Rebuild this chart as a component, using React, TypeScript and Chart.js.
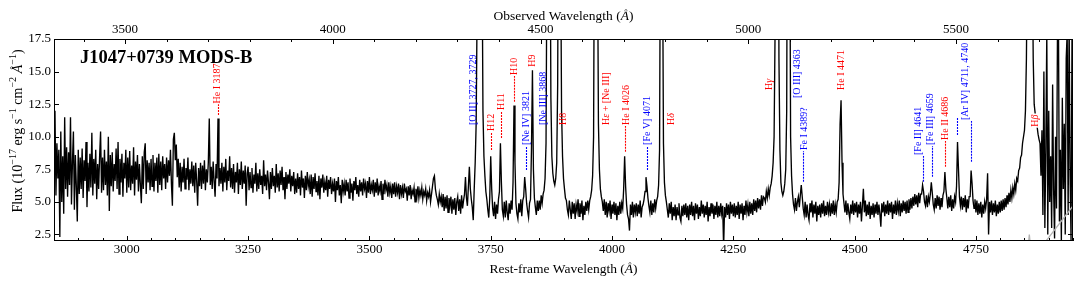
import React, { useEffect, useRef } from 'react';
import { Chart, registerables } from 'chart.js';

Chart.register(...registerables);

// ---------------- data ----------------
const REDSHIFT = 0.168;
const WAVE_START = 2850; // rest-frame Angstrom of the first spectral pixel
const WAVE_STEP = 2;     // Angstrom per spectral pixel

// rest-frame 2850-3248
const fluxUV = [
  8.0, 12.0, 5.5, 9.5, 6.8, 9.0, 2.3, 10.4, 5.0, 8.5,
  4.1, 11.5, 6.0, 9.2, 5.4, 8.8, 6.3, 11.5, 4.8, 8.0,
  10.4, 4.4, 8.6, 6.2, 3.5, 9.0, 5.6, 8.4, 6.0, 9.1,
  5.3, 8.2, 6.6, 9.6, 4.6, 8.0, 5.8, 8.7, 6.1, 10.3,
  5.5, 8.3, 6.4, 9.0, 5.2, 7.9, 6.0, 8.5, 10.4, 5.7,

  8.4, 5.9, 9.0, 6.3, 8.1, 5.5, 10.0, 4.3, 8.6, 6.2,
  8.8, 5.8, 7.9, 6.6, 9.1, 6.0, 9.6, 5.6, 8.3, 6.5,
  8.7, 5.4, 8.0, 6.8, 9.0, 5.7, 8.4, 6.1, 8.9, 5.9,
  7.8, 6.4, 9.2, 5.5, 8.1, 6.7, 8.6, 5.8, 7.9, 6.3,
  4.9, 8.5, 6.0, 8.8, 9.5, 5.6, 8.2, 6.5, 8.0, 5.9,

  8.3, 6.2, 8.6, 5.8, 8.0, 6.6, 8.4, 5.7, 8.7, 6.3,
  8.1, 5.9, 8.5, 6.8, 7.9, 6.0, 8.4, 6.5, 8.2, 7.0,
  9.0, 6.4, 4.7, 9.8, 10.3, 8.2, 9.4, 6.9, 8.3, 6.1,
  8.0, 5.8, 7.7, 6.5, 8.3, 6.0, 7.6, 6.7, 8.4, 5.9,
  7.5, 6.4, 8.1, 6.2, 7.8, 5.7, 8.0, 6.6, 4.7, 7.6,

  6.2, 8.0, 6.0, 7.8, 6.4, 8.2, 5.9, 7.5, 6.5, 8.0,
  11.4, 6.3, 7.7, 6.0, 8.1, 6.6, 5.4, 7.9, 6.8, 11.4,
  6.2, 7.6, 6.4, 8.0, 5.8, 7.7, 6.5, 8.3, 5.9, 7.4,
  6.6, 8.5, 6.1, 7.6, 6.0, 7.9, 5.7, 7.3, 6.5, 8.0,
  5.6, 7.5, 6.3, 8.1, 6.0, 7.4, 6.4, 7.8, 4.7, 7.2,
];
// rest-frame 3250-3648
const fluxNUV = [
  7.7, 5.9, 7.3, 6.1, 7.6, 5.7, 7.1, 6.4, 8.0, 5.8,
  7.2, 6.0, 7.5, 6.3, 7.0, 5.6, 8.2, 6.2, 7.1, 5.9,
  7.4, 6.5, 5.2, 7.3, 6.0, 7.6, 6.2, 7.0, 5.7, 7.9,
  6.1, 7.2, 5.8, 7.4, 6.3, 7.7, 5.9, 6.9, 5.2, 7.3,
  6.0, 7.1, 6.4, 7.5, 5.8, 7.0, 6.2, 7.3, 5.6, 6.8,

  5.7, 7.2, 6.0, 6.9, 5.5, 7.4, 6.1, 6.8, 5.3, 7.0,
  5.9, 7.3, 6.2, 6.7, 5.6, 7.1, 5.4, 6.9, 6.0, 7.2,
  5.8, 6.6, 5.5, 7.0, 5.2, 6.8, 6.1, 7.1, 5.7, 6.5,
  5.9, 7.0, 5.4, 6.7, 6.0, 6.9, 5.6, 6.4, 5.8, 6.8,
  5.0, 6.6, 5.9, 6.9, 5.5, 6.3, 4.9, 6.7, 5.8, 6.4,

  5.5, 6.7, 5.8, 6.5, 5.3, 6.8, 5.7, 6.4, 5.1, 6.6,
  5.9, 6.9, 5.6, 6.3, 5.4, 6.7, 5.8, 6.5, 5.5, 6.8,
  6.0, 6.4, 5.3, 6.6, 5.7, 6.9, 5.6, 6.3, 5.9, 6.7,
  5.4, 6.5, 5.7, 6.8, 5.5, 6.2, 5.8, 6.6, 5.2, 6.4,
  5.6, 6.7, 5.9, 6.3, 5.4, 6.5, 5.7, 6.2, 5.3, 6.4,

  5.6, 6.5, 5.4, 6.2, 5.7, 6.4, 5.2, 6.3, 5.6, 6.1,
  5.3, 6.4, 5.8, 6.0, 5.1, 6.2, 5.5, 6.3, 5.2, 5.9,
  5.6, 6.1, 5.0, 6.0, 5.4, 6.2, 5.3, 5.9, 5.5, 6.1,
  5.2, 5.8, 5.5, 6.0, 5.1, 5.7, 5.4, 5.9, 5.0, 5.6,
  6.2, 6.8, 7.0, 6.0, 5.5, 5.2, 4.8, 5.6, 5.0, 5.4,
];
// rest-frame 3650-4048
const fluxBalmer = [
  4.6, 5.6, 4.3, 5.4, 4.5, 5.5, 4.2, 5.3, 4.7, 5.4,
  4.1, 5.2, 4.4, 5.3, 4.0, 5.0, 5.4, 4.3, 5.2, 4.1,
  5.5, 4.5, 5.1, 5.6, 6.9, 5.3, 4.7, 6.2, 7.7, 6.0,
  5.2, 4.6, 3.6, 6.0, 8.0, 11, 20, 40, 50, 50,
  45, 25, 12, 8.5, 7.0, 5.8, 5.2, 4.4, 3.8, 5.3,

  8.5, 6.0, 4.5, 3.9, 5.0, 3.7, 4.8, 4.1, 5.2, 5.8,
  9.5, 6.5, 4.4, 3.9, 5.0, 3.8, 5.1, 4.2, 3.6, 4.9,
  4.1, 5.1, 4.4, 6.5, 12.4, 8.0, 4.9, 4.1, 3.7, 4.9,
  4.2, 5.2, 3.9, 5.1, 5.4, 6.9, 6.0, 4.9, 4.3, 3.8,
  4.9, 5.2, 9.0, 15.1, 7.5, 5.3, 4.6, 4.0, 5.1, 4.3,

  5.1, 4.4, 5.5, 4.9, 5.6, 5.9, 6.8, 9.5, 25, 50,
  60, 30, 13, 8.5, 7.2, 6.6, 6.3, 6.8, 8.0, 14,
  35, 40, 25, 12, 8.5, 6.8, 6.0, 5.3, 5.1, 4.4,
  4.0, 5.1, 4.4, 3.7, 5.0, 4.1, 4.9, 3.7, 4.8, 4.3,
  5.2, 3.9, 4.9, 4.1, 5.1, 3.6, 4.7, 4.0, 5.0, 4.3,

  5.1, 4.4, 5.1, 5.4, 5.9, 7.0, 10, 30, 55, 50,
  25, 11, 7.5, 6.0, 5.4, 5.0, 4.3, 5.2, 4.0, 5.0,
  3.8, 4.9, 4.3, 5.1, 3.7, 4.8, 4.1, 5.0, 4.0, 4.9,
  3.6, 4.7, 4.0, 5.0, 4.1, 4.9, 4.5, 6.0, 8.5, 6.2,
  4.8, 4.0, 3.7, 2.8, 4.8, 4.0, 5.0, 3.8, 4.8, 4.2,
];
// rest-frame 4050-4448
const fluxBlue = [
  4.9, 3.9, 4.8, 4.1, 5.1, 3.8, 4.6, 4.8, 5.2, 5.8,
  6.9, 6.2, 5.3, 4.7, 4.2, 5.1, 4.0, 4.9, 4.2, 5.2,
  4.5, 5.1, 5.4, 6.3, 9.0, 30, 50, 25, 9.5, 6.5,
  5.5, 5.0, 4.4, 3.8, 4.9, 4.1, 5.0, 3.6, 4.6, 3.9,
  4.8, 3.6, 4.6, 4.0, 4.9, 3.8, 3.5, 4.7, 3.9, 4.8,

  4.0, 4.9, 3.8, 4.7, 3.6, 4.8, 4.0, 5.0, 3.9, 4.7,
  3.6, 4.9, 4.1, 4.8, 3.7, 4.6, 3.9, 5.1, 4.1, 4.8,
  3.8, 4.7, 4.0, 5.0, 3.5, 4.6, 3.9, 4.9, 4.1, 4.8,
  3.7, 4.7, 4.0, 5.0, 3.8, 4.7, 3.9, 4.9, 4.1, 4.7,
  1.5, 4.6, 3.8, 4.9, 4.0, 4.8, 3.7, 5.0, 4.1, 4.8,

  3.9, 4.9, 3.8, 4.7, 4.0, 5.0, 3.7, 4.8, 4.1, 4.9,
  3.6, 4.7, 4.0, 5.1, 4.2, 4.8, 3.9, 5.0, 4.1, 4.9,
  4.0, 5.2, 4.3, 5.1, 4.2, 5.3, 4.5, 5.2, 4.4, 5.5,
  4.7, 5.4, 5.3, 5.0, 5.8, 5.3, 6.0, 5.5, 6.1, 6.4,
  7.0, 8.0, 10, 18, 45, 60, 40, 16, 9.0, 6.5,

  5.8, 5.5, 5.8, 6.4, 7.5, 12, 40, 50, 30, 10,
  7.0, 5.6, 4.8, 4.4, 5.3, 4.3, 5.0, 5.4, 4.6, 5.5,
  6.3, 5.4, 4.5, 4.0, 5.0, 3.8, 4.8, 4.0, 3.6, 4.9,
  4.2, 5.1, 3.8, 4.8, 4.1, 5.0, 3.5, 4.7, 4.0, 4.8,
  3.8, 4.9, 4.1, 5.1, 3.9, 4.7, 4.0, 5.0, 4.2, 4.8,
];
// rest-frame 4450-4848
const fluxGreen = [
  3.9, 4.9, 4.1, 5.1, 4.0, 4.8, 4.2, 5.0, 5.2, 6.5,
  11.0, 12.8, 8.0, 5.6, 4.9, 4.2, 5.1, 4.0, 4.9, 4.2,
  3.7, 4.8, 4.1, 5.1, 4.0, 4.9, 4.2, 5.0, 3.8, 4.8,
  4.1, 5.0, 3.5, 4.7, 6.0, 4.2, 5.1, 3.9, 4.8, 4.0,
  5.0, 3.7, 4.7, 4.0, 4.9, 3.8, 4.8, 4.1, 5.0, 4.0,

  4.8, 4.1, 3.1, 4.9, 4.2, 5.0, 3.9, 4.8, 4.1, 5.1,
  4.0, 4.9, 4.2, 5.0, 3.7, 4.8, 4.1, 5.1, 4.0, 4.9,
  4.3, 5.1, 3.9, 4.9, 4.2, 5.1, 4.3, 5.0, 4.1, 5.1,
  4.2, 5.2, 4.4, 5.3, 4.5, 5.4, 4.7, 5.6, 4.8, 5.5,
  4.6, 5.7, 4.9, 5.6, 5.6, 6.3, 5.8, 5.0, 4.7, 5.5,

  4.6, 5.4, 5.0, 5.6, 6.5, 5.7, 4.8, 4.4, 5.3, 4.5,
  5.5, 4.7, 5.4, 4.4, 5.3, 4.6, 5.5, 5.8, 7.3, 6.0,
  5.3, 4.5, 5.4, 4.6, 5.5, 4.3, 5.2, 4.5, 5.4, 5.0,
  6.2, 9.6, 7.5, 5.4, 4.7, 5.4, 4.4, 5.3, 4.6, 5.5,
  4.2, 5.2, 4.5, 5.4, 5.4, 7.4, 6.4, 5.1, 4.5, 5.2,

  4.2, 5.1, 4.0, 4.9, 4.1, 5.0, 3.8, 4.8, 4.1, 5.0,
  4.5, 5.2, 7.2, 2.5, 5.0, 4.2, 5.1, 4.0, 4.9, 4.2,
  5.1, 3.9, 4.8, 4.1, 5.0, 4.2, 5.1, 4.3, 5.2, 4.4,
  5.3, 4.6, 5.5, 4.8, 5.7, 5.0, 5.9, 5.3, 6.1, 5.6,
  6.4, 5.9, 6.8, 6.6, 7.4, 7.6, 8.4, 8.6, 9.5, 10.0,
];
// rest-frame 4850-4950
const fluxHbeta = [
  10.5, 12.0, 16.0, 25, 50, 70, 70, 50, 25, 16,
  12.5, 11.8, 11.0, 10.8, 10.2, 9.8, 9.5, 7.0, 10.5, 4.0,
  15, 3.0, 9.0, 18, 2.5, 12, 5.0, 8.5, 3.0, 14,
  6.0, 2.2, 10, 4.5, 18, 19, 3.5, 9.0, 2.0, 13,
  6.0, 11, 2.5, 16, 18, 4.0, 19, 7.0, 2.0, 18,
  9.0,
];

// light-grey secondary trace (bottom right)
const greyWave = [4856, 4860, 4864, 4880, 4950];
const greyFlux = [1.0, 2.5, 1.0, 1.3, 4.7];

const restRange = [2850, 4950];
const fluxRange = [2.0, 17.5];
const restTicks = [3000, 3250, 3500, 3750, 4000, 4250, 4500, 4750];
const obsTicks = [3500, 4000, 4500, 5000, 5500];
const fluxTicks = [2.5, 5.0, 7.5, 10.0, 12.5, 15.0, 17.5];

const RED = '#ff0000';
const BLUE = '#0000ff';

// line identifications: text centre (rest A), text start (flux), optional dashed markers [wave, from, to]
const lineLabels = [
  { text: 'He I 3187', color: RED, at: 3185, from: 12.55, dash: [[3189, 11.67, 12.5]] },
  { text: '[O II] 3727, 3729', color: BLUE, at: 3712, from: 10.9, dash: [] },
  { text: 'H12', color: RED, at: 3750, from: 10.44, dash: [[3750, 8.98, 10.36]] },
  { text: 'H11', color: RED, at: 3771, from: 12.05, dash: [[3771, 9.9, 11.97]] },
  { text: 'H10', color: RED, at: 3798, from: 14.74, dash: [[3798, 12.69, 14.66]] },
  { text: 'H9', color: RED, at: 3834.5, from: 15.37, dash: [] },
  { text: '[Ne IV] 3821', color: BLUE, at: 3822.7, from: 9.37, dash: [[3822.7, 7.45, 9.29]] },
  { text: '[Ne III] 3868', color: BLUE, at: 3857, from: 10.9, dash: [] },
  { text: 'H8', color: RED, at: 3898.3, from: 10.9, dash: [] },
  { text: 'Hε + [Ne III]', color: RED, at: 3986, from: 10.9, dash: [] },
  { text: 'He I 4026', color: RED, at: 4027.3, from: 10.9, dash: [[4027.3, 8.85, 10.82]] },
  { text: '[Fe V] 4071', color: BLUE, at: 4071.4, from: 9.37, dash: [[4071.4, 7.45, 9.29]] },
  { text: 'Hδ', color: RED, at: 4121, from: 10.9, dash: [] },
  { text: 'Hγ', color: RED, at: 4322, from: 13.59, dash: [] },
  { text: '[O III] 4363', color: BLUE, at: 4381, from: 12.97, dash: [] },
  { text: 'Fe I 4389?', color: BLUE, at: 4394, from: 8.98, dash: [[4394, 6.55, 8.9]] },
  { text: 'He I 4471', color: RED, at: 4471, from: 13.59, dash: [] },
  { text: '[Fe II] 4641', color: BLUE, at: 4630, from: 8.6, dash: [[4641.5, 6.55, 8.52]] },
  { text: '[Fe III] 4659', color: BLUE, at: 4655, from: 9.37, dash: [[4658.8, 6.93, 9.29]] },
  { text: 'He II 4686', color: RED, at: 4684.8, from: 9.75, dash: [[4686.8, 7.7, 9.67]] },
  { text: '[Ar IV] 4711, 4740', color: BLUE, at: 4727.4, from: 11.28, dash: [[4711.5, 10.13, 11.44], [4739.7, 8.08, 11.2]] },
  { text: 'Hβ', color: RED, at: 4871.6, from: 10.77, dash: [], boxed: true },
];

// ---------------- helpers ----------------
const SERIF = '"Liberation Serif", "Times New Roman", serif';
type Seg = { t: string; it?: boolean; sup?: boolean };

function segFont(s: Seg, size: number) {
  const sz = s.sup ? size * 0.72 : size;
  return `${s.it ? 'italic ' : ''}${sz}px ${SERIF}`;
}
function measureSegs(ctx: CanvasRenderingContext2D, segs: Seg[], size: number) {
  let w = 0;
  for (const s of segs) { ctx.font = segFont(s, size); w += ctx.measureText(s.t).width; }
  return w;
}
function drawSegs(ctx: CanvasRenderingContext2D, segs: Seg[], x: number, y: number, size: number) {
  let cx = x;
  for (const s of segs) {
    ctx.font = segFont(s, size);
    ctx.fillText(s.t, cx, s.sup ? y - size * 0.4 : y);
    cx += ctx.measureText(s.t).width;
  }
}
function labelSegs(text: string): Seg[] {
  const out: Seg[] = [];
  for (const ch of text) {
    const it = 'αβγδε'.includes(ch);
    const last = out[out.length - 1];
    if (last && !!last.it === it) last.t += ch; else out.push({ t: ch, it });
  }
  return out;
}

const topTitle: Seg[] = [{ t: 'Observed Wavelength (' }, { t: 'Å', it: true }, { t: ')' }];
const bottomTitle: Seg[] = [{ t: 'Rest-frame Wavelength (' }, { t: 'Å', it: true }, { t: ')' }];
const yTitle: Seg[] = [
  { t: 'Flux (10' }, { t: '−17', sup: true }, { t: ' erg s' }, { t: '−1', sup: true },
  { t: ' cm' }, { t: '−2', sup: true }, { t: ' ' }, { t: 'Å', it: true }, { t: '−1', sup: true }, { t: ')' },
];

const decorPlugin = {
  id: 'decor',
  afterDatasetsDraw(chart: any) {
    const { ctx, chartArea: a, scales } = chart;
    const sx = scales.x, sxt = scales.xTop, sy = scales.y;
    ctx.save();

    // line identifications
    for (const L of lineLabels) {
      ctx.strokeStyle = L.color;
      ctx.lineWidth = 1.1;
      ctx.setLineDash([2, 1]);
      for (const d of L.dash) {
        const px = Math.round(sx.getPixelForValue(d[0])) + 0.5;
        ctx.beginPath();
        ctx.moveTo(px, sy.getPixelForValue(d[1]));
        ctx.lineTo(px, sy.getPixelForValue(d[2]));
        ctx.stroke();
      }
      ctx.setLineDash([]);
      const segs = labelSegs(L.text);
      const size = 10;
      const w = measureSegs(ctx, segs, size);
      const cx = sx.getPixelForValue(L.at);
      const y0 = sy.getPixelForValue(L.from);
      if ((L as any).boxed) {
        ctx.fillStyle = '#ffffff';
        ctx.fillRect(cx - 5, y0 - w - 1, 10, w + 2);
      }
      ctx.save();
      ctx.translate(cx + 3.4, y0);
      ctx.rotate(-Math.PI / 2);
      ctx.fillStyle = L.color;
      ctx.textBaseline = 'alphabetic';
      ctx.textAlign = 'left';
      drawSegs(ctx, segs, 0, 0, size);
      ctx.restore();
    }

    // frame
    ctx.strokeStyle = '#000';
    ctx.lineWidth = 1;
    ctx.strokeRect(a.left + 0.5, a.top + 0.5, a.right - a.left - 1, a.bottom - a.top - 1);

    // inward ticks
    ctx.beginPath();
    const vx = (p: number) => Math.round(p) + 0.5;
    for (let w = 2900; w <= 4950; w += 50) {
      const len = restTicks.includes(w) ? 5 : 3;
      const px = vx(sx.getPixelForValue(w));
      ctx.moveTo(px, a.bottom); ctx.lineTo(px, a.bottom - len);
    }
    for (let w = 3400; w <= 5800; w += 100) {
      const px = sxt.getPixelForValue(w);
      if (px < a.left + 1 || px > a.right - 1) continue;
      const len = obsTicks.includes(w) ? 5 : 3;
      ctx.moveTo(vx(px), a.top); ctx.lineTo(vx(px), a.top + len);
    }
    for (const f of fluxTicks) {
      const py = vx(sy.getPixelForValue(f));
      ctx.moveTo(a.left, py); ctx.lineTo(a.left + 5, py);
      ctx.moveTo(a.right, py); ctx.lineTo(a.right - 5, py);
    }
    ctx.stroke();

    // titles
    ctx.fillStyle = '#000';
    ctx.textBaseline = 'alphabetic';
    ctx.textAlign = 'left';
    ctx.font = `bold 18.5px ${SERIF}`;
    ctx.fillText('J1047+0739 MODS-B', 80, 63);

    const tsize = 13.5;
    let w = measureSegs(ctx, topTitle, tsize);
    drawSegs(ctx, topTitle, (a.left + a.right) / 2 - w / 2, 20, tsize);
    w = measureSegs(ctx, bottomTitle, tsize);
    drawSegs(ctx, bottomTitle, (a.left + a.right) / 2 - w / 2, 273, tsize);

    const ysize = 14;
    w = measureSegs(ctx, yTitle, ysize);
    ctx.save();
    ctx.translate(21.5, 131);
    ctx.rotate(-Math.PI / 2);
    drawSegs(ctx, yTitle, -w / 2, 0, ysize);
    ctx.restore();

    ctx.restore();
  },
};

export default function App() {
  const ref = useRef<HTMLCanvasElement>(null);

  useEffect(() => {
    if (!ref.current) return;
    const flux = [...fluxUV, ...fluxNUV, ...fluxBalmer, ...fluxBlue, ...fluxGreen, ...fluxHbeta];
    const spectrum = flux.map((f, i) => ({ x: WAVE_START + i * WAVE_STEP, y: f }));
    const grey = greyWave.map((w, i) => ({ x: w, y: greyFlux[i] }));
    const tickFont = { family: SERIF, size: 13 };

    const chart = new Chart(ref.current, {
      type: 'line',
      data: {
        datasets: [
          { data: grey, borderColor: '#b4b4b4', borderWidth: 1.3, pointRadius: 0, fill: false, tension: 0 },
          { data: spectrum, borderColor: '#000000', borderWidth: 1.35, pointRadius: 0, fill: false, tension: 0 },
        ],
      },
      options: {
        responsive: false,
        animation: false,
        parsing: false,
        normalized: true,
        layout: { padding: { left: 0, right: 7, top: 0, bottom: 0 } },
        plugins: { legend: { display: false }, tooltip: { enabled: false }, title: { display: false } },
        events: [],
        scales: {
          x: {
            type: 'linear', position: 'bottom', min: restRange[0], max: restRange[1],
            grid: { display: false, drawTicks: false }, border: { display: false },
            afterBuildTicks: (s: any) => { s.ticks = restTicks.map((v) => ({ value: v })); },
            afterFit: (s: any) => { s.height = 44; },
            ticks: { autoSkip: false, maxRotation: 0, padding: 1, color: '#000', font: tickFont, callback: (v: any) => String(v) },
          },
          xTop: {
            type: 'linear', position: 'top', min: restRange[0] * (1 + REDSHIFT), max: restRange[1] * (1 + REDSHIFT),
            grid: { display: false, drawTicks: false }, border: { display: false },
            afterBuildTicks: (s: any) => { s.ticks = obsTicks.map((v) => ({ value: v })); },
            afterFit: (s: any) => { s.height = 39; },
            ticks: { autoSkip: false, maxRotation: 0, padding: 2, color: '#000', font: tickFont, callback: (v: any) => String(v) },
          },
          y: {
            type: 'linear', position: 'left', min: fluxRange[0], max: fluxRange[1],
            grid: { display: false, drawTicks: false }, border: { display: false },
            afterBuildTicks: (s: any) => { s.ticks = fluxTicks.map((v) => ({ value: v })); },
            afterFit: (s: any) => { s.width = 54; },
            ticks: { autoSkip: false, padding: 3, color: '#000', font: tickFont, callback: (v: any) => Number(v).toFixed(1) },
          },
        },
      } as any,
      plugins: [decorPlugin],
    });
    return () => chart.destroy();
  }, []);

  return (
    <div style={{ position: 'fixed', left: 0, top: 0, width: 1080, height: 285, background: '#fff' }}>
      <canvas ref={ref} width={1080} height={285} style={{ display: 'block' }} />
    </div>
  );
}
